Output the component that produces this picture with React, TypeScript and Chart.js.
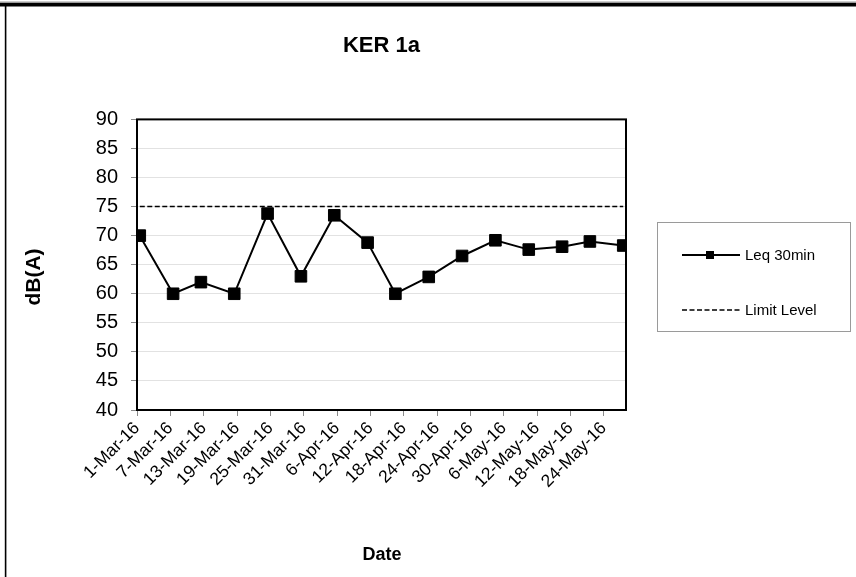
import { useEffect, useRef } from 'react';
import { Chart, registerables } from 'chart.js';

Chart.register(...registerables);

const TITLE = 'KER 1a';
const Y_TITLE = 'dB(A)';
const X_TITLE = 'Date';
const SERIES_NAME = 'Leq 30min';
const LIMIT_NAME = 'Limit Level';

const AXIS_START = '2016-03-01';
const AXIS_END = '2016-05-28';

const DATES = [
  '2016-03-01', '2016-03-07', '2016-03-12', '2016-03-18', '2016-03-24', '2016-03-30',
  '2016-04-05', '2016-04-11', '2016-04-16', '2016-04-22', '2016-04-28', '2016-05-04',
  '2016-05-10', '2016-05-16', '2016-05-21', '2016-05-27',
];
const LEQ_VALUES = [70, 60, 62, 60, 73.8, 63, 73.5, 68.8, 60, 62.9, 66.5, 69.2, 67.6, 68.1, 69.0, 68.3];
const LIMIT_VALUES = [75, 75, 75, 75, 75, 75, 75, 75, 75, 75, 75, 75, 75, 75, 75, 75];

const X_TICK_LABELS = [
  '1-Mar-16', '7-Mar-16', '13-Mar-16', '19-Mar-16', '25-Mar-16', '31-Mar-16', '6-Apr-16',
  '12-Apr-16', '18-Apr-16', '24-Apr-16', '30-Apr-16', '6-May-16', '12-May-16', '18-May-16', '24-May-16',
];
const Y_MIN = 40;
const Y_MAX = 90;
const Y_STEP = 5;

const FONT = "'Liberation Sans', Arial, sans-serif";
const MONTHS = ['Jan', 'Feb', 'Mar', 'Apr', 'May', 'Jun', 'Jul', 'Aug', 'Sep', 'Oct', 'Nov', 'Dec'];
const DAY_MS = 86400000;

function isoToUtc(iso: string) {
  const [y, m, d] = iso.split('-').map(Number);
  return Date.UTC(y, m - 1, d);
}
function dayIndex(iso: string) {
  return Math.round((isoToUtc(iso) - isoToUtc(AXIS_START)) / DAY_MS);
}
function labelDayIndex(label: string) {
  const [d, mon, yy] = label.split('-');
  const utc = Date.UTC(2000 + Number(yy), MONTHS.indexOf(mon), Number(d));
  return Math.round((utc - isoToUtc(AXIS_START)) / DAY_MS);
}

const decorPlugin = {
  id: 'decor',
  beforeDraw(chart: any) {
    const { ctx, width, height } = chart;
    ctx.save();
    ctx.fillStyle = '#ffffff';
    ctx.fillRect(0, 0, width, height);
    ctx.fillStyle = '#9a9a9a';
    ctx.fillRect(0, 1.5, width, 1.5);
    ctx.fillStyle = '#000000';
    ctx.fillRect(0, 3, width, 3.5);
    ctx.fillRect(4.8, 3, 1.6, height);
    ctx.restore();
  },
  beforeDatasetsDraw(chart: any) {
    const { ctx, chartArea } = chart;
    ctx.save();
    ctx.strokeStyle = '#000000';
    ctx.lineWidth = 2;
    ctx.strokeRect(chartArea.left, chartArea.top, chartArea.right - chartArea.left, chartArea.bottom - chartArea.top);
    ctx.restore();
  },
  afterDraw(chart: any) {
    const { ctx } = chart;
    ctx.save();
    ctx.fillStyle = '#000000';
    ctx.font = `bold 18px ${FONT}`;
    ctx.textAlign = 'center';
    ctx.textBaseline = 'middle';
    ctx.fillText(X_TITLE, 382, 555);
    ctx.font = `bold 21px ${FONT}`;
    ctx.translate(34, 277);
    ctx.rotate(-Math.PI / 2);
    ctx.fillText(Y_TITLE, 0, 0);
    ctx.restore();

    // legend
    const bx = 657, by = 222, bw = 193, bh = 109;
    ctx.save();
    ctx.strokeStyle = '#9a9a9a';
    ctx.lineWidth = 1;
    ctx.strokeRect(bx + 0.5, by + 0.5, bw, bh);
    const ds = chart.data.datasets;
    const rows = [255, 310];
    ds.forEach((d: any, i: number) => {
      const y = rows[i];
      ctx.strokeStyle = d.borderColor;
      ctx.lineWidth = d.borderWidth;
      ctx.setLineDash(d.borderDash || []);
      ctx.beginPath();
      ctx.moveTo(682, y);
      ctx.lineTo(740, y);
      ctx.stroke();
      ctx.setLineDash([]);
      if (d.pointRadius > 0) {
        ctx.fillStyle = d.pointBackgroundColor;
        ctx.fillRect(706, y - 4, 8, 8);
      }
      ctx.fillStyle = '#000000';
      ctx.font = `15px ${FONT}`;
      ctx.textAlign = 'left';
      ctx.textBaseline = 'middle';
      ctx.fillText(d.label, 745, y + 1);
    });
    ctx.restore();
  },
};

export default function App() {
  const canvasRef = useRef<HTMLCanvasElement | null>(null);

  useEffect(() => {
    const canvas = canvasRef.current;
    if (!canvas) return;
    const leq = DATES.map((d, i) => ({ x: dayIndex(d) + 0.5, y: LEQ_VALUES[i] }));
    const limit = DATES.map((d, i) => ({ x: dayIndex(d) + 0.5, y: LIMIT_VALUES[i] }));

    const chart = new Chart(canvas, {
      type: 'line',
      data: {
        datasets: [
          {
            label: SERIES_NAME,
            data: leq,
            borderColor: '#000000',
            borderWidth: 2,
            pointStyle: 'rect',
            pointRadius: 8.2,
            pointBorderWidth: 1,
            pointBackgroundColor: '#000000',
            pointBorderColor: '#000000',
            tension: 0,
          },
          {
            label: LIMIT_NAME,
            data: limit,
            borderColor: '#000000',
            borderWidth: 1.5,
            borderDash: [5, 2.5],
            pointRadius: 0,
            tension: 0,
          },
        ],
      },
      plugins: [decorPlugin],
      options: {
        responsive: false,
        animation: false,
        devicePixelRatio: 1,
        layout: { padding: { top: 0, right: 230, bottom: 0, left: 0 } },
        plugins: {
          legend: { display: false },
          tooltip: { enabled: false },
          title: {
            display: true,
            text: TITLE,
            fullSize: false,
            color: '#000000',
            font: { family: FONT, size: 22, weight: 'bold' },
            padding: { top: 33, bottom: 60 },
          },
        },
        scales: {
          x: {
            type: 'linear',
            min: dayIndex(AXIS_START),
            max: dayIndex(AXIS_END),
            afterBuildTicks: (scale: any) => {
              scale.ticks = X_TICK_LABELS.map((l) => ({ value: labelDayIndex(l) }));
            },
            afterFit: (scale: any) => {
              scale.height = 167;
            },
            border: { display: false },
            grid: {
              drawOnChartArea: false,
              drawTicks: true,
              tickLength: 6,
              tickColor: '#8a8a8a',
              tickWidth: 1,
            },
            ticks: {
              autoSkip: false,
              minRotation: 45,
              maxRotation: 45,
              padding: 2,
              color: '#000000',
              font: { family: FONT, size: 17.5 },
              callback: (_v: any, i: number) => X_TICK_LABELS[i],
            },
          },
          y: {
            min: Y_MIN,
            max: Y_MAX,
            afterFit: (scale: any) => {
              scale.width = 137;
            },
            border: { display: false },
            grid: {
              color: '#e2e2e2',
              lineWidth: 1,
              tickLength: 6,
              tickColor: '#8a8a8a',
            },
            ticks: {
              stepSize: Y_STEP,
              padding: 13,
              color: '#000000',
              font: { family: FONT, size: 20 },
            },
          },
        },
      },
    } as any);
    return () => chart.destroy();
  }, []);

  return (
    <div style={{ position: 'absolute', left: 0, top: 0, width: 856, height: 577 }}>
      <canvas ref={canvasRef} width={856} height={577} />
    </div>
  );
}
